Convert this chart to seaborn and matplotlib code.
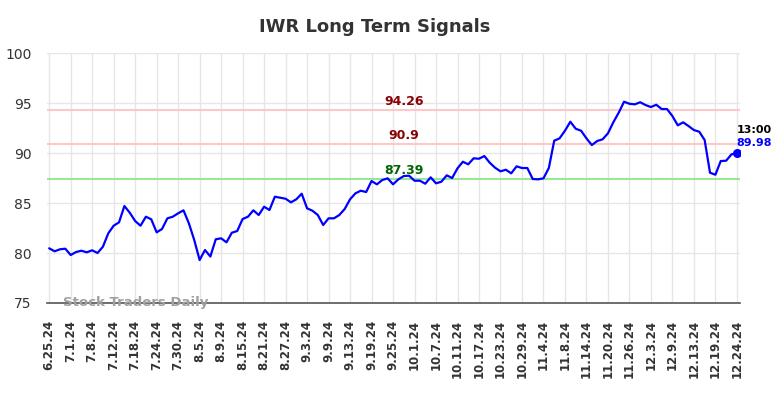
import matplotlib
matplotlib.use("Agg")
import matplotlib.pyplot as plt
import seaborn as sns
import pandas as pd

TICK_LABELS = ["6.25.24", "7.1.24", "7.8.24", "7.12.24", "7.18.24", "7.24.24", "7.30.24",
               "8.5.24", "8.9.24", "8.15.24", "8.21.24", "8.27.24", "9.3.24", "9.9.24",
               "9.13.24", "9.19.24", "9.25.24", "10.1.24", "10.7.24", "10.11.24", "10.17.24",
               "10.23.24", "10.29.24", "11.4.24", "11.8.24", "11.14.24", "11.20.24",
               "11.26.24", "12.3.24", "12.9.24", "12.13.24", "12.19.24", "12.24.24"]

prices = [80.47, 80.17, 80.37, 80.43, 79.8, 80.1, 80.23, 80.07, 80.27, 80.0,
          80.63, 81.97, 82.73, 83.07, 84.7, 84.03, 83.2, 82.73, 83.63, 83.37,
          82.07, 82.4, 83.47, 83.63, 83.97, 84.27, 82.97, 81.3, 79.3, 80.3,
          79.65, 81.37, 81.47, 81.07, 82.03, 82.2, 83.4, 83.63, 84.27, 83.8,
          84.63, 84.3, 85.63, 85.53, 85.43, 85.07, 85.37, 85.93, 84.47, 84.23,
          83.8, 82.8, 83.47, 83.47, 83.8, 84.4, 85.37, 85.97, 86.23, 86.1,
          87.2, 86.87, 87.3, 87.47, 86.87, 87.37, 87.7, 87.73, 87.23, 87.23,
          86.93, 87.57, 86.97, 87.13, 87.77, 87.5, 88.47, 89.13, 88.87, 89.47,
          89.43, 89.7, 89.03, 88.53, 88.17, 88.33, 87.97, 88.67, 88.5, 88.5,
          87.4, 87.37, 87.47, 88.5, 91.23, 91.47, 92.23, 93.13, 92.43, 92.23,
          91.47, 90.8, 91.2, 91.37, 91.97, 93.07, 94.03, 95.13, 94.93, 94.87,
          95.08, 94.8, 94.6, 94.83, 94.4, 94.4, 93.7, 92.77, 93.07, 92.7,
          92.3, 92.13, 91.3, 88.03, 87.83, 89.2, 89.23, 89.87, 89.98]

levels = [94.26, 90.9, 87.39]
level_line_colors = ["#ffc8c8", "#ffc8c8", "#98e698"]
level_text_colors = ["#8b0000", "#8b0000", "#006400"]

df = pd.DataFrame({"idx": range(len(prices)), "price": prices})

sns.set_style("white")
fig = plt.figure(figsize=(7.84, 3.98), dpi=100)
ax = fig.add_axes([0.06, 0.2387, 0.884, 0.628])

tick_pos = list(range(0, len(prices), 4))
for x in tick_pos:
    ax.axvline(x, color="#e6e6e6", lw=1, zorder=0)
for y in range(75, 101, 5):
    ax.axhline(y, color="#e6e6e6", lw=1, zorder=0)

for lvl, lc, tc in zip(levels, level_line_colors, level_text_colors):
    ax.axhline(lvl, color=lc, lw=1.5, zorder=1)
    ax.text(66, lvl + 0.25, str(lvl), color=tc, fontsize=9, fontweight="bold",
            ha="center", va="bottom", zorder=3)

sns.lineplot(data=df, x="idx", y="price", color="#0000ff", lw=1.6, ax=ax, zorder=2)
last = len(prices) - 1
ax.scatter([last], [prices[-1]], color="#0000ff", s=30, zorder=4)
ax.text(last, prices[-1] + 2.3, "13:00", fontsize=8, fontweight="bold", color="black",
        ha="left", va="center")
ax.text(last, prices[-1] + 1.0, f"{prices[-1]:.2f}", fontsize=8, fontweight="bold",
        color="#0000ff", ha="left", va="center")

ax.text(2.6, 75.0, "Stock Traders Daily", fontsize=9.5, fontweight="bold", color="#a0a0a0",
        ha="left", va="center", zorder=5)

ax.set_xlim(-0.4, 128.6)
ax.set_ylim(75, 100)
ax.set_yticks(range(75, 101, 5))
ax.set_xticks(tick_pos)
ax.set_xticklabels(TICK_LABELS, rotation=90, fontsize=8.5, fontweight="bold", color="#333333")
ax.tick_params(axis="y", labelsize=10, labelcolor="#333333", length=0, pad=11)
ax.tick_params(axis="x", length=0, pad=12)
ax.set_xlabel("")
ax.set_ylabel("")
for s in ["top", "right", "left"]:
    ax.spines[s].set_visible(False)
ax.spines["bottom"].set_color("#555555")
ax.spines["bottom"].set_linewidth(1.2)

fig.suptitle("IWR Long Term Signals", x=0.478, y=0.955, fontsize=13, fontweight="bold",
             color="#333333")

fig.savefig("out.png", dpi=100)
